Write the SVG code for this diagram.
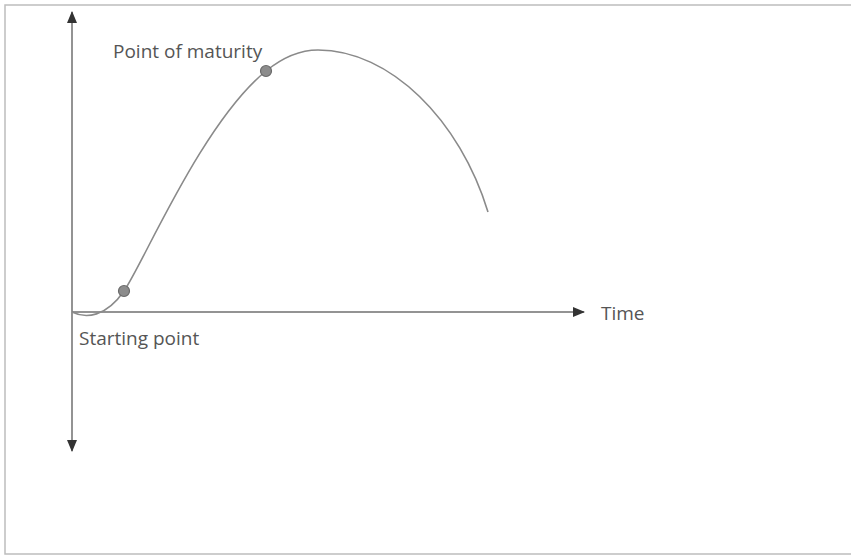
<svg xmlns="http://www.w3.org/2000/svg" width="851" height="557" viewBox="0 0 851 557">
<defs>
<marker id="arr" viewBox="0 0 12 10" refX="11" refY="5" markerWidth="12" markerHeight="10" markerUnits="userSpaceOnUse" orient="auto">
<path d="M0,0 L12,5 L0,10 Z" fill="#333"/>
</marker>
</defs>
<style>
.axis{stroke:#6f6f6f;stroke-width:1.5;fill:none}
.curve{stroke:#8a8a8a;stroke-width:1.6;fill:none}
.dot{fill:#8c8c8c;stroke:#6a6a6a;stroke-width:1.2}
text{font-family:"Open Sans","Noto Sans",sans-serif;font-size:19px;fill:#555}
</style>
<rect x="0" y="0" width="851" height="557" fill="#fff"/>
<rect x="5" y="5" width="900" height="549" fill="none" stroke="#bdbdbd" stroke-width="1.5"/>
<g id="connectors">
<line class="axis" x1="72" y1="312" x2="72" y2="12" marker-end="url(#arr)"/>
<line class="axis" x1="72" y1="312" x2="72" y2="451" marker-end="url(#arr)"/>
<line class="axis" x1="72" y1="312" x2="584" y2="312" marker-end="url(#arr)"/>
<path class="curve" d="M72,312 C86,319 106,317 124,291 C143,264 202,123 266,71 C282,58 300,50 318,50 C390,50 460,120 488,212"/>
</g>
<g id="start"><circle class="dot" cx="124" cy="291" r="5.5"/><text x="79" y="345">Starting point</text></g>
<g id="maturity"><circle class="dot" cx="266" cy="71" r="5.5"/><text x="113" y="58">Point of maturity</text></g>
<g id="time"><text x="601" y="320">Time</text></g>
</svg>
